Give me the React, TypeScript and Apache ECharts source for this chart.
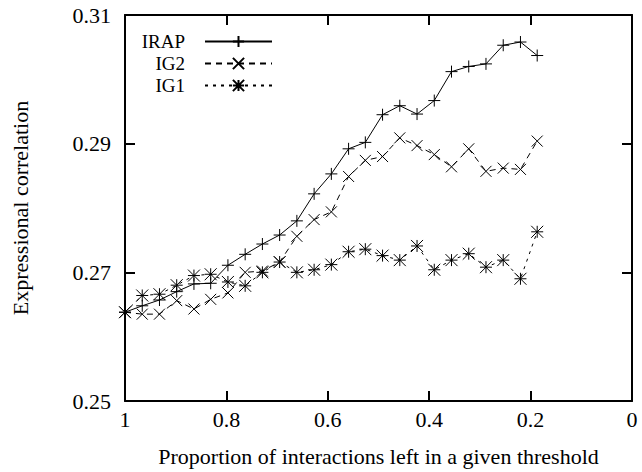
import { useEffect, useRef } from "react";
import * as echarts from "echarts";

const proportion = [
  1, 0.966, 0.932, 0.898, 0.864, 0.831, 0.797, 0.763, 0.729, 0.695, 0.661, 0.627, 0.593,
  0.559, 0.526, 0.492, 0.458, 0.424, 0.39, 0.356, 0.322, 0.288, 0.254, 0.22, 0.187,
];
const irap = [
  0.2638, 0.2648, 0.2657, 0.267, 0.2682, 0.2683, 0.2711, 0.2728, 0.2744, 0.2758, 0.278,
  0.2822, 0.2853, 0.2892, 0.2902, 0.2945, 0.2959, 0.2946, 0.2967, 0.3012, 0.302, 0.3024,
  0.3053, 0.3058, 0.3037,
];
const ig2 = [
  0.2638, 0.2635, 0.2635, 0.2656, 0.2643, 0.2658, 0.2668, 0.27, 0.2702, 0.2716, 0.2756,
  0.2782, 0.2794, 0.2849, 0.2874, 0.288, 0.2909, 0.2897, 0.2883, 0.2864, 0.2892, 0.2857,
  0.2862, 0.286, 0.2904,
];
const ig1 = [
  0.2638, 0.2664, 0.2666, 0.268, 0.2695, 0.2697, 0.2685, 0.2679, 0.27, 0.2716, 0.27, 0.2704,
  0.2712, 0.2732, 0.2736, 0.2726, 0.2719, 0.2741, 0.2704, 0.2719, 0.2729, 0.2708, 0.2719,
  0.269, 0.2763,
];
const seriesNames = ["IRAP", "IG2", "IG1"];
const xTickLabels: Record<string, string> = { "0": "0", "0.2": "0.2", "0.4": "0.4", "0.6": "0.6", "0.8": "0.8", "1": "1" };
const yTickLabels: Record<string, string> = { "0.25": "0.25", "0.27": "0.27", "0.29": "0.29", "0.31": "0.31" };

const FONT = "'Liberation Serif', 'DejaVu Serif', serif";
const FS = 22;
const PLUS = "path://M0,5L10,5M5,0L5,10";
const CROSS = "path://M0,0L10,10M10,0L0,10";
const STAR = "path://M0,5L10,5M5,0L5,10M0,0L10,10M10,0L0,10";

export default function App() {
  const ref = useRef<HTMLDivElement>(null);
  useEffect(() => {
    if (!ref.current) return;
    const chart = echarts.init(ref.current, null, { renderer: "svg" });
    const pair = (ys: number[]) => proportion.map((x, i) => [x, ys[i]]);
    const axisLine = () => ({ show: true, onZero: false, lineStyle: { color: "#000", width: 2 } });
    const axisTick = () => ({ show: true, inside: true, length: 10, lineStyle: { color: "#000", width: 2 } });
    const mkSeries = (name: string, data: number[], symbol: string, dash: any, size: number) => ({
      name,
      type: "line",
      data: pair(data),
      symbol,
      symbolSize: size,
      showSymbol: true,
      lineStyle: { color: "#000", width: 1, type: dash },
      itemStyle: { color: "#000", borderColor: "#000", borderWidth: 1 },
      emphasis: { disabled: true },
    });
    const mkLegend = (name: string, top: number) => ({
      data: [name],
      right: 369,
      top,
      align: "right",
      itemWidth: 67,
      itemHeight: 14,
      padding: 0,
      textStyle: { fontFamily: FONT, fontSize: 19, lineHeight: 19, color: "#000", padding: [0, 15, 0, 0] },
      selectedMode: false,
    });
    chart.setOption({
      animation: false,
      grid: { left: 125, right: 10, top: 15, bottom: 69, containLabel: false },
      legend: [mkLegend("IRAP", 32), mkLegend("IG2", 54), mkLegend("IG1", 76)],
      xAxis: [
        {
          type: "value",
          min: 0,
          max: 1,
          interval: 0.2,
          inverse: true,
          position: "bottom",
          axisLine: axisLine(),
          axisTick: axisTick(),
          splitLine: { show: false },
          axisLabel: {
            fontFamily: FONT,
            fontSize: FS,
            color: "#000",
            margin: 7,
            formatter: (v: number) => xTickLabels[String(+v.toFixed(2))] ?? String(v),
          },
          name: "Proportion of interactions left in a given threshold",
          nameLocation: "middle",
          nameGap: 44,
          nameTextStyle: { fontFamily: FONT, fontSize: FS, color: "#000" },
        },
        {
          type: "value",
          min: 0,
          max: 1,
          interval: 0.2,
          inverse: true,
          position: "top",
          axisLine: axisLine(),
          axisTick: axisTick(),
          splitLine: { show: false },
          axisLabel: { show: false },
        },
      ],
      yAxis: [
        {
          type: "value",
          min: 0.25,
          max: 0.31,
          interval: 0.02,
          position: "left",
          axisLine: axisLine(),
          axisTick: axisTick(),
          splitLine: { show: false },
          axisLabel: {
            fontFamily: FONT,
            fontSize: FS,
            color: "#000",
            margin: 14,
            formatter: (v: number) => yTickLabels[String(+v.toFixed(2))] ?? String(v),
          },
          name: "Expressional correlation",
          nameLocation: "middle",
          nameGap: 94,
          nameTextStyle: { fontFamily: FONT, fontSize: FS, color: "#000" },
        },
        {
          type: "value",
          min: 0.25,
          max: 0.31,
          interval: 0.02,
          position: "right",
          axisLine: axisLine(),
          axisTick: axisTick(),
          splitLine: { show: false },
          axisLabel: { show: false },
        },
      ],
      series: [
        mkSeries(seriesNames[0], irap, PLUS, "solid", 12),
        mkSeries(seriesNames[1], ig2, CROSS, [6, 5], 11),
        mkSeries(seriesNames[2], ig1, STAR, [3, 5], 12),
      ],
    });
    return () => chart.dispose();
  }, []);
  return (
    <div
      ref={ref}
      style={{ position: "fixed", left: 0, top: 0, width: 642, height: 472, background: "#fff" }}
    />
  );
}
